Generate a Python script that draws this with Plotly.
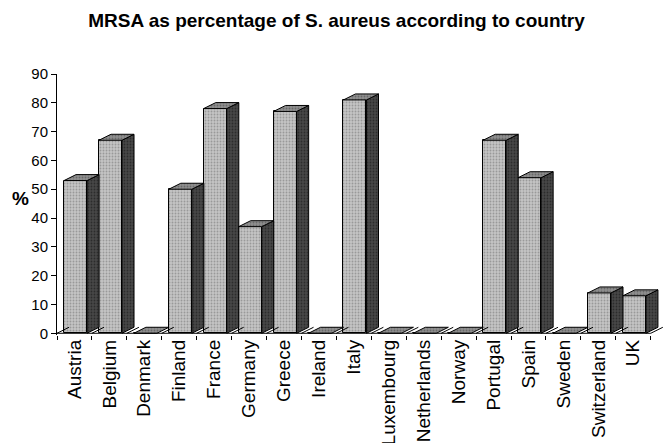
import plotly.graph_objects as go

# MRSA share of S. aureus isolates per country (%)
countries = ["Austria", "Belgium", "Denmark", "Finland", "France", "Germany",
             "Greece", "Ireland", "Italy", "Luxembourg", "Netherlands", "Norway",
             "Portugal", "Spain", "Sweden", "Switzerland", "UK"]
mrsa_pct = [53, 67, 0, 50, 78, 37, 77, 0, 81, 0, 0, 0, 67, 54, 0, 14, 13]
y_ticks = [0, 10, 20, 30, 40, 50, 60, 70, 80, 90]

# pseudo-3D geometry (in axis units)
BAR_OFF = -0.30     # left edge of front face relative to category centre
BAR_W = 0.66        # front face width
DX = 0.345          # depth offset along x
DY = 2.08           # depth offset along y

FONT = "Liberation Sans, Arial, sans-serif"

xs = list(range(len(countries)))

fig = go.Figure()

# front faces
fig.add_trace(go.Bar(
    x=xs, y=mrsa_pct, base=0, width=BAR_W, offset=BAR_OFF,
    marker=dict(color="#c0c0c0",
                line=dict(color="black", width=1),
                pattern=dict(shape=".", fgcolor="#6e6e6e", bgcolor="#c4c4c4",
                             size=3, solidity=0.3)),
    hoverinfo="skip", showlegend=False,
))

# side and top faces as polygons
side_x, side_y, top_x, top_y = [], [], [], []
for i, v in zip(xs, mrsa_pct):
    l = i + BAR_OFF
    r = l + BAR_W
    if v > 0:
        side_x += [r, r + DX, r + DX, r, r, None]
        side_y += [0, DY, v + DY, v, 0, None]
    top_x += [l, r, r + DX, l + DX, l, None]
    top_y += [v, v, v + DY, v + DY, v, None]

fig.add_trace(go.Scatter(
    x=side_x, y=side_y, mode="lines", fill="toself",
    fillcolor="#3c3c3c",
    fillpattern=dict(shape=".", fgcolor="#111111", bgcolor="#474747",
                     size=3, solidity=0.3),
    line=dict(color="black", width=1),
    hoverinfo="skip", showlegend=False,
))
fig.add_trace(go.Scatter(
    x=top_x, y=top_y, mode="lines", fill="toself",
    fillcolor="#888888",
    fillpattern=dict(shape=".", fgcolor="#444444", bgcolor="#8f8f8f",
                     size=3, solidity=0.3),
    line=dict(color="black", width=1),
    hoverinfo="skip", showlegend=False,
))

# floor: front edge plus slanted depth ticks at category boundaries
bounds = [k - 0.5 for k in range(len(countries) + 1)]
floor_x, floor_y = [bounds[0], bounds[-1], None], [0, 0, None]
for b in bounds:
    floor_x += [b, b + DX, None]
    floor_y += [0, DY, None]
fig.add_trace(go.Scatter(
    x=floor_x, y=floor_y, mode="lines",
    line=dict(color="black", width=1),
    hoverinfo="skip", showlegend=False,
))

fig.update_layout(
    width=669, height=443,
    margin=dict(l=57, r=6, t=74, b=108, autoexpand=False),
    paper_bgcolor="white", plot_bgcolor="white",
    font=dict(family=FONT, color="black"),
    title=dict(text="<b>MRSA as percentage of S. aureus according to country</b>",
               x=0.503, xref="container", xanchor="center",
               y=0.953, yref="container", yanchor="middle",
               font=dict(size=19, family=FONT, color="black")),
    bargap=0,
)

fig.update_xaxes(
    range=[-0.5, 16.85], showgrid=False, zeroline=False, showline=False,
    automargin=False,
    tickmode="array", tickvals=xs, ticktext=countries, tickangle=-90,
    ticks="", tickfont=dict(size=19, family=FONT, color="black"),
    minor=dict(tickmode="array", tickvals=bounds, ticks="outside",
               ticklen=4, tickcolor="black", tickwidth=1),
)
fig.update_yaxes(
    range=[-0.6, 90], showgrid=False, zeroline=False, automargin=False,
    showline=True, linecolor="black", linewidth=1,
    tickmode="array", tickvals=y_ticks,
    ticks="outside", ticklen=5, tickcolor="black",
    tickfont=dict(size=15, family=FONT, color="black"),
)

fig.add_annotation(
    text="<b>%</b>", xref="paper", yref="paper", x=-0.061, y=0.523,
    xanchor="center", yanchor="middle", showarrow=False,
    font=dict(size=19, family=FONT, color="black"),
)

fig.write_html("out.html")
